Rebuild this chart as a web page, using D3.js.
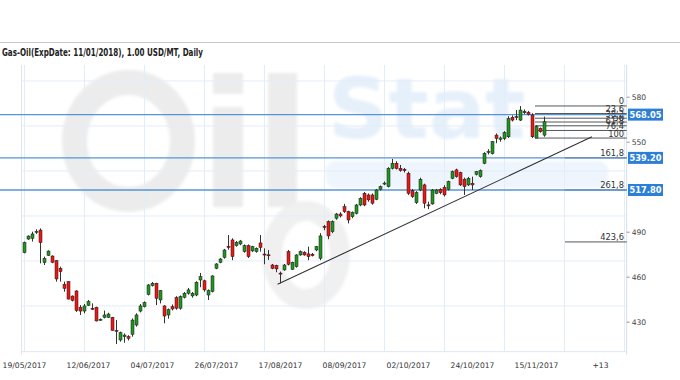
<!DOCTYPE html>
<html><head><meta charset="utf-8">
<script src="https://cdn.jsdelivr.net/npm/d3@7"></script>
<style>html,body{margin:0;padding:0;background:#fff;} svg{display:block;}</style>
</head><body>
<svg id="chart" width="680" height="380"></svg>
<script>
const title = "Gas-Oil(ExpDate: 11/01/2018), 1.00 USD/MT, Daily";
const opens = [476.0,485.1,485.6,489.8,491.1,469.4,474.2,473.8,470.7,465.6,454.9,456.7,447.1,450.5,439.6,437.1,440.9,438.9,439.6,431.4,
432.9,432.9,432.9,424.2,417.8,420.0,420.0,421.6,427.8,437.1,440.0,448.2,454.0,455.6,444.5,440.5,434.5,440.0,446.1,439.0,
446.3,449.0,447.2,447.8,457.8,457.3,447.8,450.1,465.6,469.6,472.9,480.2,484.5,480.7,481.8,476.7,480.7,477.2,476.7,482.5,
475.1,474.6,467.8,467.4,462.4,464.5,476.7,464.9,466.7,474.5,476.3,475.2,475.0,477.8,472.3,493.5,496.7,490.0,499.0,501.8,
506.7,503.4,500.0,502.3,507.8,515.6,514.5,514.5,511.6,518.3,522.2,520.0,532.3,535.6,532.3,531.6,529.0,517.4,509.4,517.8,
521.2,507.9,508.5,515.6,518.3,519.6,518.3,525.6,531.2,529.4,525.0,521.2,522.3,528.3,526.7,535.6,543.3,542.0,554.4,551.5,
552.0,553.3,566.2,566.7,564.4,569.3,569.5,567.8,552.4,558.9,554.4];
const highs = [483.4,487.6,490.0,491.6,492.2,473.4,477.6,474.2,471.0,466.7,456.7,457.0,447.5,451.0,441.1,441.8,444.5,442.2,440.0,432.2,
437.4,436.0,433.2,431.1,423.4,422.2,421.0,432.2,435.6,441.8,443.5,455.0,456.5,456.0,451.1,441.0,438.8,441.5,447.0,447.5,
449.8,452.5,449.8,457.0,462.5,458.0,451.5,461.0,469.0,472.5,478.5,487.8,485.6,483.8,484.5,481.5,481.5,480.6,479.5,487.8,
478.9,477.8,468.5,468.0,463.4,468.5,477.8,470.0,475.0,477.5,477.0,480.0,475.8,480.5,489.0,494.5,497.5,497.5,502.5,503.0,
508.5,504.0,503.5,508.5,513.0,516.5,515.5,515.5,518.5,520.8,523.5,533.0,538.5,537.0,534.5,532.5,530.0,518.5,517.0,526.0,
522.0,510.0,518.5,518.5,519.0,521.0,524.0,530.8,532.0,530.0,526.0,526.5,526.7,530.5,531.5,543.0,545.0,550.5,555.5,553.5,
557.0,567.0,567.5,571.1,573.8,571.5,570.5,569.0,561.0,559.5,566.7];
const lows = [475.6,484.6,483.4,488.5,468.9,467.8,473.8,469.0,456.7,456.7,450.0,444.8,443.5,436.5,434.5,435.6,440.5,437.8,430.2,430.7,
432.2,432.5,424.0,415.1,416.7,416.0,417.5,420.0,426.7,436.2,439.5,447.5,453.4,441.1,442.2,428.9,432.0,437.5,438.0,438.0,
445.5,448.0,446.0,447.0,453.0,450.0,444.5,449.5,465.0,469.0,472.0,478.0,471.0,480.0,481.0,476.0,472.5,476.5,476.0,476.7,
468.3,471.2,465.0,463.0,455.6,464.0,467.5,464.5,466.0,474.0,474.0,471.0,473.5,477.0,471.0,491.0,485.0,489.0,498.0,499.5,
502.5,495.5,499.0,501.5,507.0,507.0,510.0,508.0,511.0,517.5,521.0,519.5,531.5,531.5,530.0,529.5,514.5,512.5,508.5,517.0,
505.6,505.0,508.0,515.0,515.0,513.5,517.5,525.0,526.0,520.5,514.5,520.5,517.8,527.5,526.0,535.0,541.5,541.5,549.0,550.0,
551.0,552.5,563.5,564.4,563.8,568.5,567.5,552.4,552.4,556.0,553.3];
const closes = [482.7,487.1,488.5,490.2,482.7,472.2,477.1,469.6,458.5,463.4,452.2,445.1,444.2,437.4,437.1,440.5,443.4,438.7,430.5,431.6,
434.5,435.1,424.2,424.0,422.7,421.1,418.9,431.1,434.5,440.5,442.7,454.5,455.6,445.6,450.7,433.8,438.0,438.5,439.0,446.7,
449.0,451.2,449.0,456.3,460.0,451.2,450.7,460.5,468.5,471.8,477.8,479.8,473.4,482.9,483.8,480.7,473.4,480.0,478.9,479.5,
474.8,474.4,465.6,465.2,462.2,467.8,468.3,469.6,474.5,476.7,474.5,473.4,474.0,480.0,487.2,493.2,487.2,496.7,501.8,500.5,
503.4,497.8,502.9,507.8,512.3,507.8,511.2,509.0,517.8,520.0,522.4,532.3,535.6,532.2,530.8,530.7,515.6,513.4,516.0,524.9,
509.0,507.7,517.8,517.8,516.0,514.5,523.4,530.0,526.7,521.2,520.1,525.6,521.2,530.0,530.7,542.3,543.5,550.0,552.2,552.5,
556.0,565.5,564.4,566.4,571.1,570.2,568.2,553.3,560.0,556.7,563.3];
const dateLabels = ["19/05/2017","12/06/2017","04/07/2017","26/07/2017","17/08/2017","08/09/2017","02/10/2017","24/10/2017","15/11/2017"];
const dateLabelBars = [0,16,32,48,64,80,96,112,128];
const futureLabel = "+13";
const futureLabelBar = 144;
const priceTicks = [430,460,490,550,580];
const markerValues = [568.05, 539.20, 517.80];
const fibHigh = 573.83, fibLow = 552.43;
const fibLevels = [0,23.6,38.2,50,61.8,76.4,100];
const fibExtensions = [161.8,261.8,423.6];
const trendStart = [63.4, 454.9], trendEnd = [142, 553.3];

const svg = d3.select("#chart");
const x = d3.scaleLinear().domain([0,150.5]).range([24,626]);
const y = d3.scaleLinear().domain([430,580]).range([321.7,96.7]);
const plotTop = 65, plotBottom = 351.7, plotLeft = 21, plotRight = 626.7;

svg.append("line").attr("x1",0).attr("x2",680).attr("y1",42.5).attr("y2",42.5).attr("stroke","#c8c8c8");
svg.append("text").attr("x",2).attr("y",55.5).text(title)
  .attr("font-family","DejaVu Sans").attr("font-weight","bold").attr("font-size",9.6)
  .attr("textLength",201).attr("lengthAdjust","spacingAndGlyphs").attr("fill","#222");

// watermark
const defs = svg.append("defs");
defs.append("filter").attr("id","blur").append("feGaussianBlur").attr("stdDeviation",1.6);
const wm = svg.append("g").attr("filter","url(#blur)");
wm.append("ellipse").attr("cx",128.5).attr("cy",141).attr("rx",54).attr("ry",58.5)
  .attr("fill","none").attr("stroke","#ececec").attr("stroke-width",25);
wm.append("rect").attr("x",213).attr("y",73).attr("width",30).attr("height",21).attr("fill","#ececec");
wm.append("rect").attr("x",213).attr("y",107).attr("width",30).attr("height",100).attr("fill","#ececec");
wm.append("rect").attr("x",268).attr("y",73).attr("width",29).attr("height",134).attr("fill","#ececec");
wm.append("ellipse").attr("cx",306).attr("cy",255).attr("rx",34).attr("ry",44)
  .attr("fill","none").attr("stroke","#f0f0f0").attr("stroke-width",20);
wm.append("text").attr("x",328).attr("y",138).text("Stat").attr("font-family","DejaVu Sans")
  .attr("font-weight","bold").attr("font-size",84).attr("fill","#e6f0fa");
wm.append("rect").attr("x",326).attr("y",161).attr("width",282).attr("height",27).attr("rx",9).attr("fill","#eef5fc");

// gridlines
const grid = svg.append("g").attr("stroke","#e3edf7").attr("stroke-width",1);
d3.range(0,151,15).forEach(i=>{
  grid.append("line").attr("x1",Math.round(x(i))+0.5).attr("x2",Math.round(x(i))+0.5)
    .attr("y1",plotTop).attr("y2",plotBottom);
});
d3.range(440.5,600,30).forEach(v=>{
  grid.append("line").attr("x1",plotLeft).attr("x2",plotRight).attr("y1",y(v)).attr("y2",y(v));
});
svg.append("line").attr("x1",plotLeft+0.5).attr("x2",plotLeft+0.5).attr("y1",plotTop).attr("y2",plotBottom+3).attr("stroke","#dde6f0");
svg.append("line").attr("x1",plotLeft).attr("x2",plotRight).attr("y1",plotBottom).attr("y2",plotBottom).attr("stroke","#dde6f0");
svg.append("line").attr("x1",plotRight).attr("x2",plotRight).attr("y1",plotTop).attr("y2",plotBottom+3).attr("stroke","#d4dde8");

// fib lines
const fibRange = fibHigh - fibLow;
const fibG = svg.append("g");
fibLevels.concat(fibExtensions).forEach(l=>{
  const v = fibHigh - fibRange*l/100;
  const x0 = l<=100 ? x(127.75) : x(135.25);
  fibG.append("line").attr("x1",x0).attr("x2",plotRight).attr("y1",y(v)).attr("y2",y(v))
    .attr("stroke","#444").attr("stroke-width",0.9);
  fibG.append("text").attr("x",624).attr("y",y(v)-1.5).attr("text-anchor","end")
    .attr("font-family","DejaVu Sans").attr("font-size",8.3).attr("fill","#333")
    .text(String(l).replace(".",","));
});

markerValues.forEach(v=>{
  svg.append("line").attr("x1",0).attr("x2",plotRight).attr("y1",y(v)).attr("y2",y(v))
    .attr("stroke","#5794d6").attr("stroke-width",1.4);
});

svg.append("line").attr("x1",x(trendStart[0])).attr("y1",y(trendStart[1]))
  .attr("x2",x(trendEnd[0])).attr("y2",y(trendEnd[1])).attr("stroke","#333").attr("stroke-width",1.1);

const cg = svg.append("g");
opens.forEach((o,i)=>{
  const c = closes[i], cx = Math.round(x(i));
  cg.append("line").attr("x1",cx+0.5).attr("x2",cx+0.5).attr("y1",y(highs[i])).attr("y2",y(lows[i]))
    .attr("stroke","#333").attr("stroke-width",1);
  const top = y(Math.max(o,c)), bot = y(Math.min(o,c));
  cg.append("rect").attr("x",cx-1).attr("y",top).attr("width",3).attr("height",Math.max(1,bot-top))
    .attr("fill", c>=o ? "#1f961f" : "#f01414").attr("stroke","#1a1a1a").attr("stroke-width",0.5);
});

const ra = svg.append("g").attr("transform",`translate(${plotRight},0)`)
  .call(d3.axisRight(y).tickValues(priceTicks).tickSize(3).tickPadding(2));
ra.select(".domain").remove();
ra.selectAll("line").attr("stroke","#999");
ra.selectAll("text").attr("font-family","DejaVu Sans").attr("font-size",7.6).attr("fill","#444");

markerValues.forEach(v=>{
  svg.append("rect").attr("x",628).attr("y",y(v)-6).attr("width",35).attr("height",12).attr("fill","#2c7fd6");
  svg.append("text").attr("x",645.5).attr("y",y(v)+3).attr("text-anchor","middle")
    .attr("font-family","DejaVu Sans").attr("font-weight","bold").attr("font-size",8.3).attr("fill","#fff")
    .text(v.toFixed(2));
});

const allBars = dateLabelBars.concat([futureLabelBar]);
const allLabels = dateLabels.concat([futureLabel]);
const ba = svg.append("g").attr("transform",`translate(0,${plotBottom})`)
  .call(d3.axisBottom(x).tickValues(allBars).tickSize(0).tickPadding(11)
    .tickFormat((d,i)=>allLabels[i]));
ba.select(".domain").remove();
ba.selectAll("text").attr("font-family","DejaVu Sans").attr("font-size",7.6).attr("fill","#333");
</script>
</body></html>
